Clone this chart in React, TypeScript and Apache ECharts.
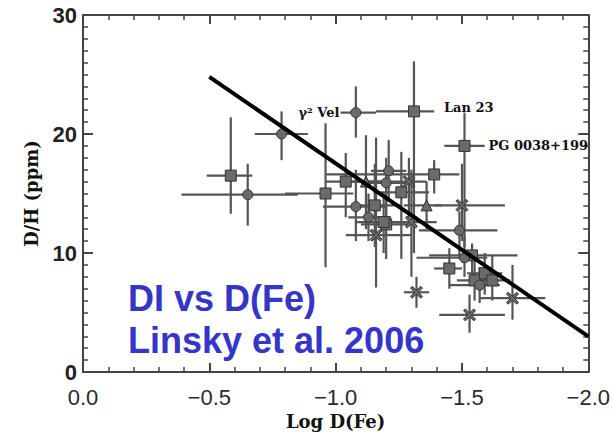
import React, { useEffect, useRef } from "react";
import * as echarts from "echarts";

// ---- data ----
const logFe = [-0.585, -0.652, -0.786, -1.08, -1.31, -1.51, -0.96, -1.04, -1.08, -1.155, -1.2, -1.16, -1.21, -1.2, -1.12, -1.29, -1.39, -1.26, -1.36, -1.5, -1.19, -1.3, -1.49, -1.32, -1.54, -1.45, -1.51, -1.55, -1.59, -1.62, -1.57, -1.7, -1.53, -1.13];
const dh = [16.5, 14.9, 20.0, 21.8, 21.9, 19.0, 15.0, 16.0, 13.9, 14.0, 12.4, 11.5, 16.9, 15.9, 16.0, 16.0, 16.6, 15.1, 14.0, 14.0, 12.6, 12.6, 11.9, 6.7, 9.8, 8.7, 9.6, 7.7, 8.3, 7.7, 7.3, 6.2, 4.8, 13.0];
const logFeLo = [-0.49, -0.39, -0.68, -1.02, -1.16, -1.43, -0.8, -0.96, -0.95, -1.07, -1.1, -1.04, -1.14, -1.1, -1.03, -1.22, -0.96, -1.15, -1.27, -1.39, -1.08, -1.2, -1.33, -1.27, -1.37, -1.39, -1.32, -1.48, -1.52, -1.55, -1.45, -1.57, -1.41, -1.05];
const logFeHi = [-0.67, -0.85, -0.89, -1.16, -1.39, -1.59, -1.07, -1.18, -1.2, -1.26, -1.3, -1.3, -1.28, -1.3, -1.21, -1.36, -1.49, -1.37, -1.42, -1.67, -1.28, -1.4, -1.64, -1.37, -1.72, -1.5, -1.6, -1.62, -1.66, -1.69, -1.65, -1.83, -1.67, -1.22];
const dhLo = [13.3, 12.3, 17.8, 19.7, 10.0, 10.5, 8.8, 13.0, 11.0, 10.5, 9.5, 7.1, 14.5, 12.0, 12.0, 13.0, 15.0, 9.5, 12.0, 11.0, 10.0, 8.0, 9.5, 5.4, 7.7, 7.0, 8.0, 6.0, 6.5, 6.0, 5.8, 4.4, 3.3, 11.0];
const dhHi = [21.4, 17.5, 21.9, 24.0, 26.1, 21.8, 20.9, 18.4, 17.0, 17.5, 14.5, 19.7, 19.5, 18.0, 19.9, 18.0, 17.8, 18.5, 16.0, 17.5, 15.0, 17.0, 13.5, 8.0, 10.8, 10.4, 11.5, 9.5, 10.0, 9.8, 8.8, 9.0, 6.5, 15.0];
const markers = ["sq", "ci", "ci", "ci", "sq", "sq", "sq", "sq", "ci", "sq", "sq", "x", "ci", "ci", "tri", "x", "sq", "sq", "tri", "x", "sq", "x", "ci", "x", "sq", "sq", "ci", "sq", "sq", "sq", "ci", "x", "x", "ci"];
const starNames = ["", "", "", "γ² Vel", "Lan 23", "PG 0038+199", "", "", "", "", "", "", "", "", "", "", "", "", "", "", "", "", "", "", "", "", "", "", "", "", "", "", "", ""];
const fitX = [-0.5, -2.0];
const fitY = [24.8, 3.0];
const xTicks = [0, -0.5, -1.0, -1.5, -2.0];
const yTicks = [0, 10, 20, 30];

const X_PATH = "path://M0,1.5L1.5,0L5,3.5L8.5,0L10,1.5L6.5,5L10,8.5L8.5,10L5,6.5L1.5,10L0,8.5L3.5,5Z";
const symbolOf: Record<string, string> = { sq: "rect", ci: "circle", tri: "triangle", x: X_PATH };
const sizeOf: Record<string, number> = { sq: 11, ci: 10, tri: 11, x: 12 };
const labelPlace: Record<string, any> = {
  "γ² Vel": { position: "left", distance: 11, offset: [0, 0] },
  "Lan 23": { position: "right", distance: 24, offset: [0, -4] },
  "PG 0038+199": { position: "right", distance: 18, offset: [0, 0] },
};

const SERIF = '"DejaVu Serif", serif';
const fmtX = (v: number) => (v === 0 ? "0.0" : "\u2212" + Math.abs(v).toFixed(1));

export default function App() {
  const ref = useRef<HTMLDivElement>(null);
  useEffect(() => {
    if (!ref.current) return;
    const chart = echarts.init(ref.current, undefined, { renderer: "svg" });
    const axisColor = "#444";
    const errData = logFe.map((x, i) => [x, dh[i], logFeLo[i], logFeHi[i], dhLo[i], dhHi[i]]);
    const ptData = logFe.map((x, i) => {
      const item: any = { value: [x, dh[i]] };
      if (starNames[i]) {
        const pl = labelPlace[starNames[i]];
        item.label = {
          show: true,
          formatter: starNames[i],
          position: pl.position,
          distance: pl.distance,
          offset: pl.offset,
          fontFamily: SERIF,
          fontWeight: "bold",
          fontSize: 13,
          color: "#111",
        };
      }
      return item;
    });
    const xCommon = {
      type: "value",
      min: -2,
      max: 0,
      interval: 0.5,
      inverse: true,
      axisLine: { show: true, onZero: false, lineStyle: { color: axisColor, width: 2 } },
      axisTick: { show: true, inside: true, length: 9, lineStyle: { color: axisColor, width: 2 } },
      minorTick: { show: true, splitNumber: 5, length: 5, lineStyle: { color: axisColor, width: 1.5 } },
      splitLine: { show: false },
    };
    const yCommon = {
      type: "value",
      min: 0,
      max: 30,
      interval: 10,
      axisLine: { show: true, onZero: false, lineStyle: { color: axisColor, width: 2 } },
      axisTick: { show: true, inside: true, length: 10, lineStyle: { color: axisColor, width: 2 } },
      minorTick: { show: true, splitNumber: 10, length: 5, lineStyle: { color: axisColor, width: 1.5 } },
      splitLine: { show: false },
    };
    chart.setOption({
      animation: false,
      backgroundColor: "#fff",
      grid: { left: 83, right: 20, top: 15, bottom: 68 },
      xAxis: [
        {
          ...xCommon,
          position: "bottom",
          name: "Log D(Fe)",
          nameLocation: "middle",
          nameGap: 39,
          nameTextStyle: { fontFamily: SERIF, fontWeight: "bold", fontSize: 18, color: "#111" },
          axisLabel: {
            show: true,
            margin: 14,
            fontFamily: "Liberation Sans",
            fontSize: 22,
            color: "#2a2a2a",
            formatter: (v: number) => (xTicks.indexOf(v) >= 0 ? fmtX(v) : ""),
          },
        },
        { ...xCommon, position: "top", axisLabel: { show: false } },
      ],
      yAxis: [
        {
          ...yCommon,
          position: "left",
          name: "D/H (ppm)",
          nameLocation: "middle",
          nameGap: 43,
          nameTextStyle: { fontFamily: SERIF, fontWeight: "bold", fontSize: 18, color: "#111" },
          axisLabel: {
            show: true,
            margin: 6,
            fontFamily: "Liberation Sans",
            fontWeight: "bold",
            fontSize: 22,
            color: "#222",
            formatter: (v: number) => (yTicks.indexOf(v) >= 0 ? String(v) : ""),
          },
        },
        { ...yCommon, position: "right", axisLabel: { show: false } },
      ],
      series: [
        {
          type: "custom",
          xAxisIndex: 0,
          yAxisIndex: 0,
          data: errData,
          encode: { x: 0, y: 1 },
          z: 2,
          renderItem: (params: any, api: any) => {
            const x = api.value(0), y = api.value(1);
            const a = api.coord([api.value(2), y]);
            const b = api.coord([api.value(3), y]);
            const c = api.coord([x, api.value(4)]);
            const d = api.coord([x, api.value(5)]);
            const st = { stroke: "#555", lineWidth: 2.2 };
            return {
              type: "group",
              children: [
                { type: "line", shape: { x1: a[0], y1: a[1], x2: b[0], y2: b[1] }, style: st },
                { type: "line", shape: { x1: c[0], y1: c[1], x2: d[0], y2: d[1] }, style: st },
              ],
            };
          },
        },
        {
          type: "scatter",
          xAxisIndex: 0,
          yAxisIndex: 0,
          z: 3,
          data: ptData,
          symbol: (_v: any, p: any) => symbolOf[markers[p.dataIndex]],
          symbolSize: (_v: any, p: any) => sizeOf[markers[p.dataIndex]],
          itemStyle: { color: "#6a6a6a", borderColor: "#333", borderWidth: 1, opacity: 1 },
        },
        {
          type: "line",
          xAxisIndex: 0,
          yAxisIndex: 0,
          z: 4,
          data: fitX.map((x, i) => [x, fitY[i]]),
          symbol: "none",
          lineStyle: { color: "#000", width: 4 },
        },
      ],
      graphic: [
        {
          type: "text",
          left: 128,
          top: 280,
          z: 10,
          style: { text: "DI vs D(Fe)", font: 'bold 36px "Liberation Sans"', fill: "#3535c8" },
        },
        {
          type: "text",
          left: 128,
          top: 322,
          z: 10,
          style: { text: "Linsky et al. 2006", font: 'bold 36px "Liberation Sans"', fill: "#3535c8" },
        },
      ],
    });
    return () => chart.dispose();
  }, []);
  return <div ref={ref} style={{ width: 613, height: 440, position: "absolute", left: 0, top: 0 }} />;
}
